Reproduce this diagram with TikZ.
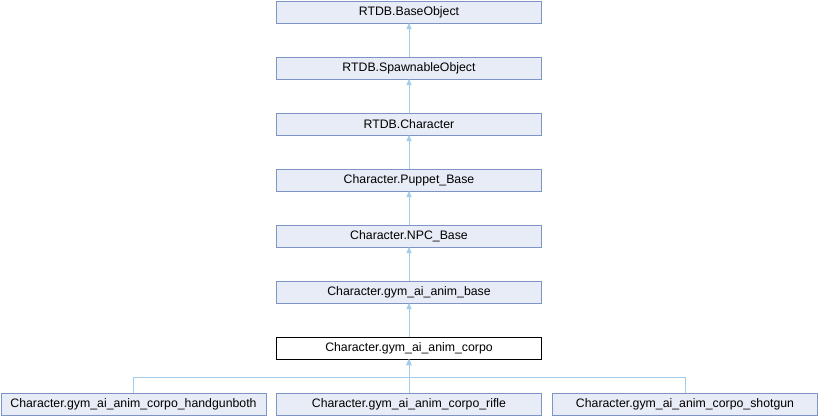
\documentclass[tikz,border=0pt]{standalone}
\usepackage{fontspec}
\setmainfont{Liberation Sans}
\usetikzlibrary{arrows.meta}
\definecolor{boxfill}{HTML}{E8ECF6}
\definecolor{boxline}{HTML}{7C95C6}
\definecolor{edgeblue}{HTML}{A3CCEA}
\tikzset{
  cls/.style={draw=boxline, fill=boxfill, line width=1pt, minimum width=265pt,
    minimum height=22pt, inner sep=0pt, outer sep=0pt,
    font=\fontsize{12.3}{14}\selectfont},
  current/.style={cls, draw=black, fill=white},
  inherit/.style={draw=edgeblue, line width=1pt,
    -{Triangle[length=6pt,width=5pt,fill=edgeblue]}}
}
\begin{document}
\begin{tikzpicture}[x=1pt,y=-1pt]
\useasboundingbox (0,0) rectangle (818,416);
\node[cls] (base) at (409,12) {RTDB.BaseObject};
\node[cls] (spawn) at (409,68) {RTDB.SpawnableObject};
\node[cls] (chr) at (409,124) {RTDB.Character};
\node[cls] (puppet) at (409,180) {Character.Puppet\_Base};
\node[cls] (npc) at (409,236) {Character.NPC\_Base};
\node[cls] (animbase) at (409,292) {Character.gym\_ai\_anim\_base};
\node[current] (corpo) at (409,348) {Character.gym\_ai\_anim\_corpo};
\node[cls, minimum width=265pt] (hand) at (133.5,404) {Character.gym\_ai\_anim\_corpo\_handgunboth};
\node[cls] (rifle) at (409,404) {Character.gym\_ai\_anim\_corpo\_rifle};
\node[cls] (shot) at (685,404) {Character.gym\_ai\_anim\_corpo\_shotgun};
\coordinate (bus) at (409,377);

\draw[inherit] (spawn) -- (base);
\draw[inherit] (chr) -- (spawn);
\draw[inherit] (puppet) -- (chr);
\draw[inherit] (npc) -- (puppet);
\draw[inherit] (animbase) -- (npc);
\draw[inherit] (corpo) -- (animbase);
\draw[inherit] (hand.north) |- (bus) -- (corpo.south);
\draw[inherit] (shot.north) |- (bus) -- (corpo.south);
\draw[inherit] (rifle) -- (corpo);
\end{tikzpicture}
\end{document}
